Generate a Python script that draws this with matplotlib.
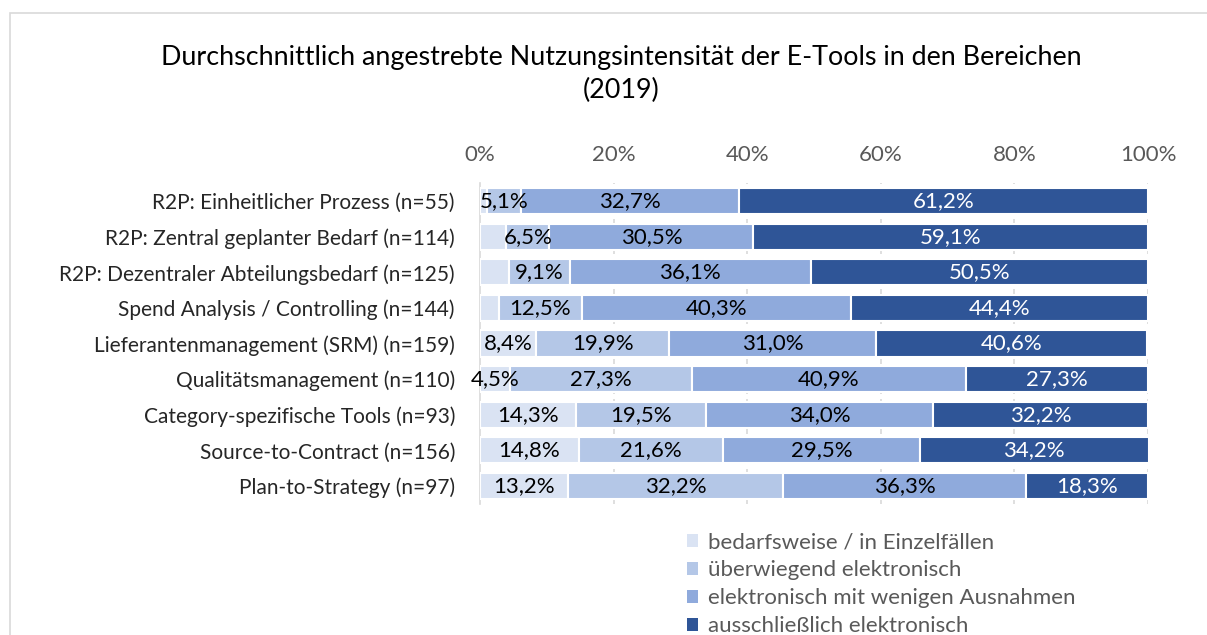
import matplotlib
matplotlib.use("Agg")
import matplotlib.pyplot as plt
from matplotlib.patches import Patch, Rectangle
import numpy as np

plt.rcParams['font.family'] = ['Lato', 'DejaVu Sans']

title = "Durchschnittlich angestrebte Nutzungsintensität der E-Tools in den Bereichen\n(2019)"

categories = [
    "R2P: Einheitlicher Prozess (n=55)",
    "R2P: Zentral geplanter Bedarf (n=114)",
    "R2P: Dezentraler Abteilungsbedarf (n=125)",
    "Spend Analysis / Controlling (n=144)",
    "Lieferantenmanagement (SRM) (n=159)",
    "Qualitätsmanagement (n=110)",
    "Category-spezifische Tools (n=93)",
    "Source-to-Contract (n=156)",
    "Plan-to-Strategy (n=97)",
]

series_names = [
    "bedarfsweise / in Einzelfällen",
    "überwiegend elektronisch",
    "elektronisch mit wenigen Ausnahmen",
    "ausschließlich elektronisch",
]

# segment values in percent, per series, in category order
s1 = [1.0, 3.9, 4.3, 2.8, 8.4, 4.5, 14.3, 14.8, 13.2]
s2 = [5.1, 6.5, 9.1, 12.5, 19.9, 27.3, 19.5, 21.6, 32.2]
s3 = [32.7, 30.5, 36.1, 40.3, 31.0, 40.9, 34.0, 29.5, 36.3]
s4 = [61.2, 59.1, 50.5, 44.4, 40.6, 27.3, 32.2, 34.2, 18.3]
# whether the segment carries a data label in the original
s1_labeled = [False, False, False, False, True, True, True, True, True]

colors = ["#DAE3F3", "#B4C7E7", "#8FAADC", "#2F5597"]
label_colors = ["#000000", "#000000", "#000000", "#FFFFFF"]

fig = plt.figure(figsize=(12.07, 6.35), dpi=100)
ax = fig.add_axes([480/1207, 1-503.8/635, (1148-480)/1207, (503.8-183.2)/635])

y = np.arange(len(categories))
left = np.zeros(len(categories))
all_series = [s1, s2, s3, s4]
for i, vals in enumerate(all_series):
    vals = np.array(vals)
    bars = ax.barh(y, vals, left=left, height=0.73, color=colors[i],
                   edgecolor="white", linewidth=1.5, zorder=3)
    labels = []
    for j, v in enumerate(vals):
        if i == 0 and not s1_labeled[j]:
            labels.append("")
        else:
            labels.append(f"{v:.1f}%".replace(".", ","))
    ax.bar_label(bars, labels=labels, label_type="center",
                 color=label_colors[i], fontsize=16, zorder=4)
    left = left + vals

ax.set_xlim(0, 100)
ax.set_ylim(len(categories) - 0.5, -0.5)
ax.set_yticks(y)
ax.set_yticklabels(categories, fontsize=15, color="#262626")
ax.tick_params(axis="y", length=0, pad=18)
ax.xaxis.tick_top()
ax.set_xticks([0, 20, 40, 60, 80, 100])
ax.set_xticklabels(["0%", "20%", "40%", "60%", "80%", "100%"], fontsize=16, color="#595959")
ax.tick_params(axis="x", length=0, pad=13)
for sp in ["top", "right", "bottom"]:
    ax.spines[sp].set_visible(False)
ax.spines["left"].set_color("#D9D9D9")
ax.spines["left"].set_linewidth(1.2)
for xv in [20, 40, 60, 80, 100]:
    ax.axvline(xv, color="#D9D9D9", linestyle=(0, (3, 3)), linewidth=1.2, zorder=1)

fig.text(621/1207, 1-74/635, title, ha="center", va="center", fontsize=19.4,
         color="#000000", linespacing=1.4)

handles = [Patch(facecolor=c, edgecolor="none") for c in colors]
fig.legend(handles, series_names, loc="upper left", bbox_to_anchor=(676/1207, 1-521/635),
           frameon=False, fontsize=16, labelcolor="#595959", handlelength=0.5,
           handleheight=0.5, handletextpad=0.45, labelspacing=0.36, borderpad=0)

# chart area border (clipped on right/bottom)
fig.patches.append(Rectangle((9.5/1207, -0.1), 1.2, (635-13)/635 + 0.1,
                             transform=fig.transFigure, fill=False,
                             edgecolor="#D9D9D9", linewidth=1.2))

fig.savefig("out.png", dpi=100)
